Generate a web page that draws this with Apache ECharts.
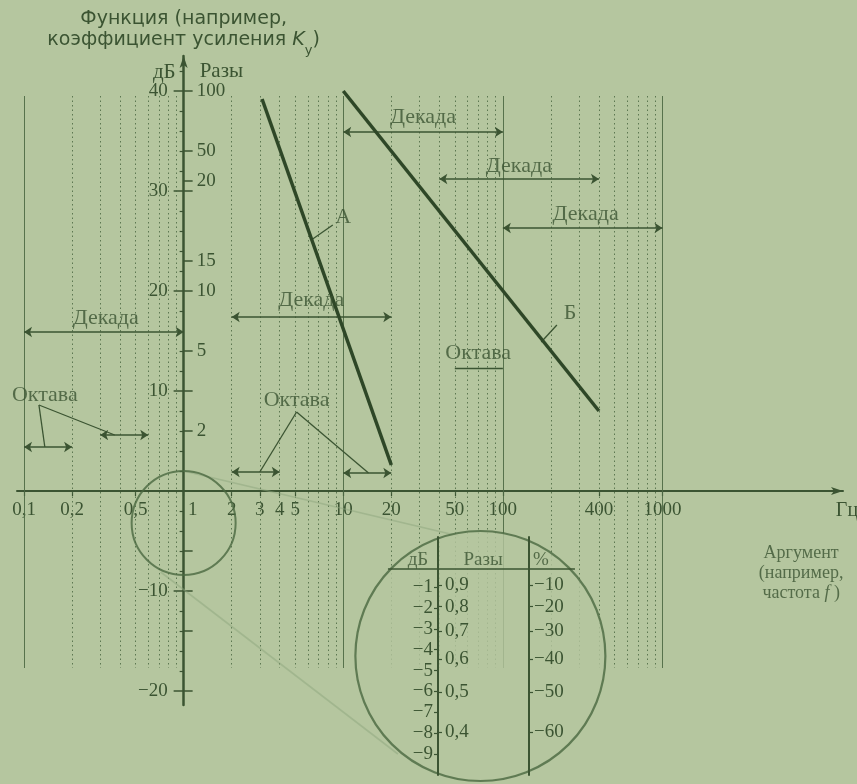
<!DOCTYPE html>
<html>
<head>
<meta charset="utf-8">
<script src="https://cdn.jsdelivr.net/npm/echarts@6/dist/echarts.min.js"></script>
<style>
  html, body { margin: 0; padding: 0; background: #b5c69f; }
  #chart { width: 857px; height: 784px; }
</style>
</head>
<body>
<div id="chart"></div>
<script>
// ---- Frequency axis (Гц). Values are plotted as log10(f) on a value axis.
const freqTicks = [0.1, 0.2, 0.5, 1, 2, 3, 4, 5, 10, 20, 50, 100, 400, 1000];
const freqTickLabels = ['0,1', '0,2', '0,5', '1', '2', '3', '4', '5', '10', '20', '50', '100', '400', '1000'];
const decadeGrid = [0.1, 10, 100, 1000];
const minorGrid = [0.2, 0.3, 0.4, 0.5, 0.6, 0.7, 0.8, 0.9,
                   2, 3, 4, 5, 6, 7, 8, 9,
                   20, 30, 40, 50, 60, 70, 80, 90,
                   200, 300, 400, 500, 600, 700, 800, 900];
const gridSpanDb = [39.5, -17.7];

// ---- Level axis: dB on the left side, ratio ("Разы") on the right side
const dbTicks = [40, 30, 20, 10, -10, -20];
const dbMinorTicks = [42, 38, 36, 34, 32, 28, 26, 24, 22, 18, 16, 14, 12, 8, 6, 4, 2,
                      -2, -4, -6, -8, -12, -14, -16, -18];
const ratioLabels = ['100', '50', '20', '15', '10', '5', '2'];
const ratioLabelDb = [40, 34, 31, 23, 20, 14, 6];
const ratioPlainTickDb = [30, 10, -6, -10, -14, -20];

// ---- Responses: [f, dB]
const curveA = [[3.1, 39.2], [20, 2.6]];
const curveB = [[10, 40], [400, 8]];

// ---- Interval markers: [f from, f to, dB]
const decadeSpans = [[0.1, 1, 15.9], [2, 20, 17.4], [10, 100, 35.9], [40, 400, 31.2], [100, 1000, 26.3]];
const octaveSpans = [[0.1, 0.2, 4.4], [0.3, 0.6, 5.6], [2, 4, 1.9], [10, 20, 1.8]];
const octavePlainSpans = [[50, 100, 12.3]];

// ---- Annotation texts and their anchor points [f, dB]
const noteTexts = ['Декада', 'Декада', 'Декада', 'Декада', 'Декада', 'Октава', 'Октава', 'Октава', 'А', 'Б'];
const noteF = [0.325, 6.3, 31.6, 126, 330, 0.135, 5.1, 70, 10, 264];
const noteDb = [17.3, 19.1, 37.4, 32.5, 27.7, 9.6, 9.1, 13.8, 27.4, 17.8];
const leaderLines = [
  [[0.124, 8.6], [0.135, 4.4]], [[0.124, 8.6], [0.37, 5.6]],
  [[5.1, 7.9], [3.0, 1.9]], [[5.1, 7.9], [14.4, 1.8]],
  [[6.3, 25.1], [8.6, 26.6]], [[174, 14.9], [218, 16.6]]
];

// ---- Magnifier: small circle around the origin, enlarged scale in the big one
const lensSmall = [1, -3.2];
const lensBig = [72.3, -16.5];
const lensRays = [[[1.0, 2.0], [53, -4.5]], [[0.718, -8.1], [22, -26.3]]];

// ---- Enlarged scale near 0 dB
const insetDb = [-1, -2, -3, -4, -5, -6, -7, -8, -9];
const insetRatio = [0.9, 0.8, 0.7, 0.6, 0.5, 0.4];
const insetPercent = [-10, -20, -30, -40, -50, -60];
const insetHeaders = ['дБ', 'Разы', '%'];
const insetHeaderX = [-0.22, 0.495, 1.13];

const BG = '#b5c69f';
const INK = '#3b5432';
const CURVE = '#2e4727';
const GRIDC = '#4c6843';
const RAY = '#8ea57e';
const SERIF = 'Liberation Serif';
const SANS = 'DejaVu Sans';

// Plot area and axis ranges (log10 f, dB)
const VIEW = { w: 857, h: 784 };
const PLOT = { left: 17, right: 14, top: 56, bottom: 79 };
const X_RANGE = [-1.044, 4.131];
const Y_RANGE = [-21.4, 43.5];
const plotW = VIEW.w - PLOT.left - PLOT.right;
const plotH = VIEW.h - PLOT.top - PLOT.bottom;
// Shift the axes inward so they cross at f = 1, 0 dB
const yAxisShift = -(0 - X_RANGE[0]) / (X_RANGE[1] - X_RANGE[0]) * plotW;
const xAxisShift = -(0 - Y_RANGE[0]) / (Y_RANGE[1] - Y_RANGE[0]) * plotH;

const lg = Math.log10;
const pt = (f, d) => [lg(f), d];
const dbOfRatio = r => 20 * lg(r);
const dbOfPercent = p => 20 * lg(1 + p / 100);
const near = (a, b) => Math.abs(a - b) < 1e-6;
const minus = v => (v < 0 ? '\u2212' + (-v) : String(v));

const chart = echarts.init(document.getElementById('chart'), null, { renderer: 'canvas' });

const gridLineData = decadeGrid.map(f => ({
  coords: [pt(f, gridSpanDb[0]), pt(f, gridSpanDb[1])],
  lineStyle: { color: GRIDC, width: 1, type: 'solid', opacity: 0.9 }
})).concat(minorGrid.map(f => ({
  coords: [pt(f, gridSpanDb[0]), pt(f, gridSpanDb[1])],
  lineStyle: { color: GRIDC, width: 1, type: [1.5, 3], opacity: 0.85 }
})));

const spanToLine = s => ({ coords: [pt(s[0], s[2]), pt(s[1], s[2])] });

const levelAxisBase = {
  type: 'value', gridIndex: 0, position: 'left', offset: yAxisShift,
  min: Y_RANGE[0], max: Y_RANGE[1], splitLine: { show: false }
};

const option = {
  backgroundColor: BG,
  animation: false,
  grid: [
    Object.assign({ outerBoundsMode: 'none' }, PLOT),
    { left: 438, top: 537, width: 91, height: 238, outerBoundsMode: 'none' }
  ],
  xAxis: [
    {
      type: 'value', gridIndex: 0, position: 'bottom', offset: xAxisShift,
      min: X_RANGE[0], max: X_RANGE[1],
      axisLine: { onZero: false, symbol: ['none', 'arrow'], symbolSize: [6, 12],
                  lineStyle: { color: INK, width: 2 } },
      axisTick: { customValues: freqTicks.map(lg), length: 5, lineStyle: { color: INK, width: 1.2 } },
      axisLabel: {
        customValues: freqTicks.map(lg), margin: 10,
        fontFamily: SERIF, fontSize: 19, color: INK,
        formatter: v => {
          const i = freqTicks.findIndex(f => near(lg(f), v));
          const t = i >= 0 ? freqTickLabels[i] : '';
          return t === '1' ? '{one|1}' : t;
        },
        rich: { one: { fontFamily: SERIF, fontSize: 19, color: INK, padding: [0, 0, 0, 18] } }
      },
      splitLine: { show: false },
      name: 'Гц', nameLocation: 'end', nameGap: 4,
      nameTextStyle: { fontFamily: SERIF, fontSize: 20, color: INK, align: 'center',
                       verticalAlign: 'top', padding: [10, 0, 0, 0] }
    },
    { type: 'value', gridIndex: 1, min: 0, max: 1, show: false, axisLine: { onZero: false } }
  ],
  yAxis: [
    Object.assign({}, levelAxisBase, {
      axisLine: { onZero: false, symbol: ['none', 'arrow'], symbolSize: [6, 12],
                  lineStyle: { color: INK, width: 2.5 } },
      axisTick: { customValues: dbTicks, length: 10, lineStyle: { color: INK, width: 1.5 } },
      axisLabel: { customValues: dbTicks, margin: 16, fontFamily: SERIF, fontSize: 19, color: INK,
                   formatter: v => minus(v) },
      name: 'Функция (например,\nкоэффициент усиления {i|K}{s|у})',
      nameLocation: 'end', nameGap: 5,
      nameTextStyle: {
        fontFamily: SANS, fontSize: 19, lineHeight: 21, color: INK, align: 'center',
        rich: {
          i: { fontFamily: SANS, fontSize: 19, fontStyle: 'italic', color: INK, lineHeight: 21 },
          s: { fontFamily: SANS, fontSize: 13, color: INK, verticalAlign: 'bottom', lineHeight: 21, padding: [0, 0, -6, 0] }
        }
      }
    }),
    Object.assign({}, levelAxisBase, {
      axisLine: { show: false, onZero: false },
      axisTick: { inside: true, customValues: ratioLabelDb.concat(ratioPlainTickDb), length: 9,
                  lineStyle: { color: INK, width: 1.5 } },
      axisLabel: { inside: true, customValues: ratioLabelDb, margin: 13,
                   fontFamily: SERIF, fontSize: 19, color: INK,
                   formatter: v => ratioLabels[ratioLabelDb.findIndex(d => near(d, v))] },
      name: 'Разы', nameLocation: 'end', nameGap: -16,
      nameTextStyle: { fontFamily: SERIF, fontSize: 21, color: INK, align: 'left',
                       verticalAlign: 'middle', padding: [0, 0, 0, 16] }
    }),
    Object.assign({}, levelAxisBase, {
      axisLine: { show: false, onZero: false },
      axisTick: { customValues: dbMinorTicks, length: 4, lineStyle: { color: INK, width: 1.2 } },
      axisLabel: { show: false },
      name: 'дБ', nameLocation: 'end', nameGap: -16,
      nameTextStyle: { fontFamily: SERIF, fontSize: 21, color: INK, align: 'right',
                       verticalAlign: 'middle', padding: [0, 8, 0, 0] }
    }),
    {
      type: 'value', gridIndex: 1, position: 'left', min: -10, max: 1.4, z: 10,
      axisLine: { onZero: false, lineStyle: { color: INK, width: 2 } },
      axisTick: { customValues: insetDb, length: 4, lineStyle: { color: INK, width: 1.2 } },
      axisLabel: { customValues: insetDb, margin: 5, fontFamily: SERIF, fontSize: 19, color: INK,
                   formatter: v => minus(Math.round(v)) },
      splitLine: { show: false }
    },
    {
      type: 'value', gridIndex: 1, position: 'left', min: -10, max: 1.4, z: 10,
      axisLine: { show: false, onZero: false },
      axisTick: { inside: true, customValues: insetRatio.map(dbOfRatio), length: 4,
                  lineStyle: { color: INK, width: 1.2 } },
      axisLabel: { inside: true, customValues: insetRatio.map(dbOfRatio), margin: 7,
                   fontFamily: SERIF, fontSize: 19, color: INK,
                   formatter: v => {
                     const r = insetRatio.find(x => near(dbOfRatio(x), v));
                     return r === undefined ? '' : r.toFixed(1).replace('.', ',');
                   } },
      splitLine: { show: false }
    },
    {
      type: 'value', gridIndex: 1, position: 'right', min: -10, max: 1.4, z: 10,
      axisLine: { onZero: false, lineStyle: { color: INK, width: 2 } },
      axisTick: { customValues: insetPercent.map(dbOfPercent), length: 4,
                  lineStyle: { color: INK, width: 1.2 } },
      axisLabel: { customValues: insetPercent.map(dbOfPercent), margin: 5,
                   fontFamily: SERIF, fontSize: 19, color: INK,
                   formatter: v => {
                     const p = insetPercent.find(x => near(dbOfPercent(x), v));
                     return p === undefined ? '' : minus(p);
                   } },
      splitLine: { show: false }
    }
  ],
  series: [
    // frequency grid
    { type: 'lines', coordinateSystem: 'cartesian2d', xAxisIndex: 0, yAxisIndex: 0,
      silent: true, z: 1, data: gridLineData },
    // rays joining the two magnifier circles
    { type: 'lines', coordinateSystem: 'cartesian2d', xAxisIndex: 0, yAxisIndex: 0,
      silent: true, z: 1, clip: false,
      lineStyle: { color: RAY, width: 1.6 },
      data: lensRays.map(r => ({ coords: r.map(p => pt(p[0], p[1])) })) },
    // small circle around the origin
    { type: 'scatter', xAxisIndex: 0, yAxisIndex: 0, silent: true, z: 2, clip: false,
      symbol: 'circle', symbolSize: 104,
      itemStyle: { color: 'rgba(0,0,0,0)', borderColor: '#4a6840', borderWidth: 2 },
      data: [pt(lensSmall[0], lensSmall[1])] },
    // big circle holding the enlarged scale
    { type: 'scatter', xAxisIndex: 0, yAxisIndex: 0, silent: true, z: 3, clip: false,
      symbol: 'circle', symbolSize: 250,
      itemStyle: { color: BG, borderColor: '#4a6840', borderWidth: 2.2 },
      data: [pt(lensBig[0], lensBig[1])] },
    // response curves
    { type: 'line', xAxisIndex: 0, yAxisIndex: 0, z: 5, symbol: 'none', silent: true,
      lineStyle: { color: CURVE, width: 3.5 }, data: curveA.map(p => pt(p[0], p[1])) },
    { type: 'line', xAxisIndex: 0, yAxisIndex: 0, z: 5, symbol: 'none', silent: true,
      lineStyle: { color: CURVE, width: 3.5 }, data: curveB.map(p => pt(p[0], p[1])) },
    // decade and octave spans with arrowheads
    { type: 'lines', coordinateSystem: 'cartesian2d', xAxisIndex: 0, yAxisIndex: 0,
      silent: true, z: 4, symbol: ['arrow', 'arrow'], symbolSize: 8,
      lineStyle: { color: INK, width: 1.5, opacity: 1 },
      data: decadeSpans.concat(octaveSpans).map(spanToLine) },
    // plain span and leader lines
    { type: 'lines', coordinateSystem: 'cartesian2d', xAxisIndex: 0, yAxisIndex: 0,
      silent: true, z: 4,
      lineStyle: { color: INK, width: 1.3, opacity: 1 },
      data: octavePlainSpans.map(spanToLine)
        .concat(leaderLines.map(l => ({ coords: l.map(p => pt(p[0], p[1])) }))) },
    // annotation texts
    { type: 'scatter', xAxisIndex: 0, yAxisIndex: 0, silent: true, z: 6,
      symbolSize: 1, itemStyle: { color: 'rgba(0,0,0,0)' },
      label: { show: true, position: 'inside', formatter: p => p.name,
               fontFamily: SERIF, fontSize: 22, color: INK, textBorderWidth: 0 },
      data: noteTexts.map((t, i) => ({ name: t, value: pt(noteF[i], noteDb[i]) })) },
    // argument caption
    { type: 'scatter', xAxisIndex: 0, yAxisIndex: 0, silent: true, z: 6, clip: false,
      symbolSize: 1, itemStyle: { color: 'rgba(0,0,0,0)' },
      label: { show: true, position: 'inside', align: 'center',
               formatter: 'Аргумент\n(например,\nчастота {i|f} )',
               fontFamily: SERIF, fontSize: 18, lineHeight: 20, color: INK, textBorderWidth: 0,
               rich: { i: { fontFamily: SERIF, fontSize: 18, lineHeight: 20, fontStyle: 'italic', color: INK } } },
      data: [{ name: 'Аргумент', value: pt(7390, -8.2) }] },
    // header rule of the enlarged scale
    { type: 'lines', coordinateSystem: 'cartesian2d', xAxisIndex: 1, yAxisIndex: 3,
      silent: true, z: 6, clip: false,
      lineStyle: { color: INK, width: 1.6, opacity: 1 },
      data: [{ coords: [[-0.55, -0.13], [1.505, -0.13]] }] },
    // header texts of the enlarged scale
    { type: 'scatter', xAxisIndex: 1, yAxisIndex: 3, silent: true, z: 6, clip: false,
      symbolSize: 1, itemStyle: { color: 'rgba(0,0,0,0)' },
      label: { show: true, position: 'inside', formatter: p => p.name,
               fontFamily: SERIF, fontSize: 19, color: INK, textBorderWidth: 0 },
      data: insetHeaders.map((t, i) => ({ name: t, value: [insetHeaderX[i], 0.3] })) }
  ]
};

chart.setOption(option);
</script>
</body>
</html>
